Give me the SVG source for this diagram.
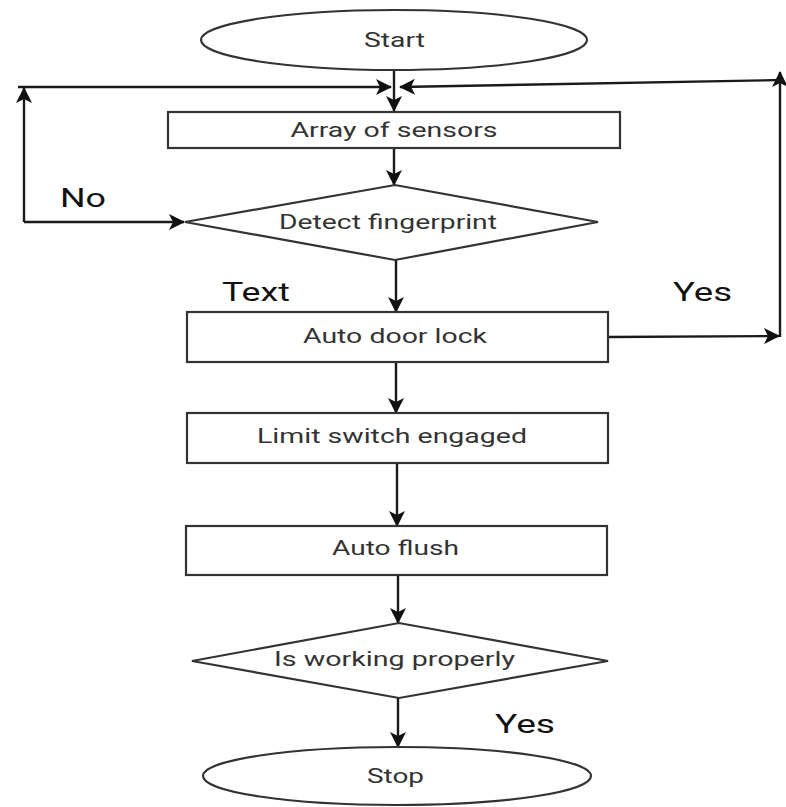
<svg xmlns="http://www.w3.org/2000/svg" width="786" height="807" viewBox="0 0 786 807">
<defs>
<style>
.shape{fill:#fff;stroke:#333;stroke-width:2.2}
.node-text{font-family:Roboto,"Liberation Sans",sans-serif;font-size:20px;fill:#333;text-anchor:middle;dominant-baseline:central}
.label{font-family:Roboto,"Liberation Sans",sans-serif;font-size:25px;fill:#111;dominant-baseline:central}
.conn{fill:none;stroke:#1a1a1a;stroke-width:2.4}
</style>
<marker id="arrow" viewBox="0 0 16 16" refX="15" refY="8" markerWidth="16" markerHeight="16" markerUnits="userSpaceOnUse" orient="auto">
<path d="M0,0 L16,8 L0,16 L4,8 Z" fill="#111"/>
</marker>
</defs>
<rect width="786" height="807" fill="#fff"/>
<g id="connectors">
<path class="conn" d="M394,71 L394,111" marker-end="url(#arrow)"/>
<path class="conn" d="M24,222 L24,88" marker-end="url(#arrow)"/>
<path class="conn" d="M18,87 L391,87" marker-end="url(#arrow)"/>
<path class="conn" d="M24,222 L184,222" marker-end="url(#arrow)"/>
<path class="conn" d="M608,337 L779,336" marker-end="url(#arrow)"/>
<path class="conn" d="M780,337 L780,72" marker-end="url(#arrow)"/>
<path class="conn" d="M783,80 L400,87" marker-end="url(#arrow)"/>
<path class="conn" d="M394,148 L394,185" marker-end="url(#arrow)"/>
<path class="conn" d="M396,260 L396,312" marker-end="url(#arrow)"/>
<path class="conn" d="M396,362 L396,413" marker-end="url(#arrow)"/>
<path class="conn" d="M397,463 L397,526" marker-end="url(#arrow)"/>
<path class="conn" d="M398,575 L398,623" marker-end="url(#arrow)"/>
<path class="conn" d="M398,698 L398,747" marker-end="url(#arrow)"/>
</g>
<g id="start">
<ellipse class="shape" cx="394" cy="40" rx="193" ry="30"/>
<text class="node-text" x="394.5" y="40" textLength="61" lengthAdjust="spacingAndGlyphs">Start</text>
</g>
<g id="array-of-sensors">
<rect class="shape" x="168" y="112" width="452" height="36"/>
<text class="node-text" x="394" y="130" textLength="207" lengthAdjust="spacingAndGlyphs">Array of sensors</text>
</g>
<g id="detect-fingerprint">
<polygon class="shape" points="185,222 395,185 598,222 395,260"/>
<text class="node-text" x="388" y="222" textLength="218" lengthAdjust="spacingAndGlyphs">Detect fingerprint</text>
</g>
<g id="auto-door-lock">
<rect class="shape" x="187" y="312" width="421" height="50"/>
<text class="node-text" x="395" y="336" textLength="184" lengthAdjust="spacingAndGlyphs">Auto door lock</text>
</g>
<g id="limit-switch">
<rect class="shape" x="187" y="413" width="421" height="50"/>
<text class="node-text" x="392" y="436" textLength="270" lengthAdjust="spacingAndGlyphs">Limit switch engaged</text>
</g>
<g id="auto-flush">
<rect class="shape" x="186" y="526" width="421" height="49"/>
<text class="node-text" x="395.5" y="548" textLength="127" lengthAdjust="spacingAndGlyphs">Auto flush</text>
</g>
<g id="is-working">
<polygon class="shape" points="192,661 399,623 608,661 399,698"/>
<text class="node-text" x="394.5" y="659" textLength="241" lengthAdjust="spacingAndGlyphs">Is working properly</text>
</g>
<g id="stop">
<ellipse class="shape" cx="397" cy="776" rx="194" ry="29"/>
<text class="node-text" x="395.5" y="776" textLength="57" lengthAdjust="spacingAndGlyphs">Stop</text>
</g>
<g id="labels">
<text class="label" x="60" y="198" textLength="46" lengthAdjust="spacingAndGlyphs">No</text>
<text class="label" x="222" y="292" textLength="68" lengthAdjust="spacingAndGlyphs">Text</text>
<text class="label" x="673" y="292" textLength="59" lengthAdjust="spacingAndGlyphs">Yes</text>
<text class="label" x="495" y="724" textLength="60" lengthAdjust="spacingAndGlyphs">Yes</text>
</g>
</svg>
